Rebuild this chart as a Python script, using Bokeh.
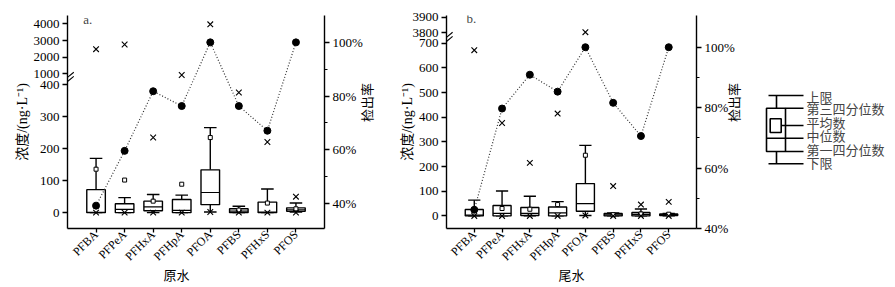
import numpy as np
from math import pi
from bokeh.plotting import figure
from bokeh.layouts import row
from bokeh.models import Range1d, LinearAxis, FixedTicker, PrintfTickFormatter, Label
from bokeh.embed import file_html
from bokeh.resources import INLINE

# ---------------- data ----------------
compounds = ["PFBA", "PFPeA", "PFHxA", "PFHpA", "PFOA", "PFBS", "PFHxS", "PFOS"]

# raw water (原水), ng/L
lower_a = [0, 0, 0, 0, 2, 0, 0, 2]
q1_a = [0, 0, 6, 0, 25, 0, 0, 4]
median_a = [1, 10, 18, 7, 63, 5, 2, 9]
q3_a = [72, 28, 36, 41, 134, 12, 33, 15]
upper_a = [170, 47, 57, 55, 266, 20, 74, 30]
mean_a = [136, 102, 36, 89, 235, 8, 30, 12]
max_a = [2480, 2760, 235, 920, 3980, 376, 221, 50]
min_a = [0, 0, 0, 0, 2, 0, 0, 0]
rate_a = [39.2, 59.6, 81.8, 76.3, 100, 76.3, 67.1, 100]

# treated water (尾水), ng/L
lower_b = [0, 0, 0, 0, 2, 0, 0, 0]
q1_b = [0, 0, 2, 0, 19, 0, 0, 2]
median_b = [3, 10, 10, 12, 50, 4, 6, 5]
q3_b = [26, 42, 34, 36, 131, 10, 14, 8]
upper_b = [64, 101, 80, 58, 286, 12, 28, 10]
mean_b = [22, 30, 27, 46, 246, 5, 8, 7]
max_b = [672, 377, 215, 415, 3804, 121, 46, 57]
min_b = [0, 0, 0, 0, 2, 0, 0, 0]
rate_b = [46.2, 79.7, 90.9, 85.3, 100, 81.6, 70.6, 100]

ticks_low_a = [0, 100, 200, 300, 400]
ticks_up_a = [1000, 2000, 3000, 4000]
ticks_low_b = [0, 100, 200, 300, 400, 500, 600, 700]
ticks_up_b = [3800, 3900]
rate_ticks = [40, 60, 80, 100]
rate_minor = [50, 70, 90]

legend_labels = ["上限", "第三四分位数", "平均数", "中位数", "第一四分位数", "下限"]

SERIF = "Liberation Serif"
CJK = "Noto Sans CJK SC"
MIX = "Liberation Serif, Noto Sans CJK SC"
H = 287


def make_tf(low_max, up_min, up_base, up_scale):
    def tf(v):
        v = np.asarray(v, dtype=float)
        return np.where(v <= low_max, v, up_base + (v - up_min) * up_scale)
    return tf


def panel(tf, lower, q1, med, q3, upper, mean, vmax, vmin, rate,
          yr, rr, t_low, t_up, break_at, width, mbl, mbr, mbb,
          tag, tag_xy, title, lstand, rstand):
    p = figure(width=width, height=H, x_range=Range1d(0, 9), y_range=Range1d(*yr),
               output_backend="svg", toolbar_location=None,
               min_border_left=mbl, min_border_right=mbr, min_border_top=15,
               min_border_bottom=mbb, outline_line_color=None)
    p.frame_align = False
    p.grid.visible = False
    p.background_fill_color = "white"
    xs = np.arange(1, len(compounds) + 1, dtype=float)
    bw = 0.65
    cw = 0.22

    # whiskers
    p.segment(x0=xs, x1=xs, y0=tf(q3), y1=tf(upper), line_color="black", line_width=1.4)
    p.segment(x0=xs, x1=xs, y0=tf(q1), y1=tf(lower), line_color="black", line_width=1.4)
    p.segment(x0=xs - cw, x1=xs + cw, y0=tf(upper), y1=tf(upper), line_color="black", line_width=1.4)
    p.segment(x0=xs - cw, x1=xs + cw, y0=tf(lower), y1=tf(lower), line_color="black", line_width=1.4)
    # boxes
    p.vbar(x=xs, width=bw, bottom=tf(q1), top=tf(q3), fill_color="white",
           line_color="black", line_width=1.4)
    p.segment(x0=xs - bw / 2, x1=xs + bw / 2, y0=tf(med), y1=tf(med), line_color="black", line_width=1.2)
    # mean
    p.scatter(xs, tf(mean), marker="square", size=4, fill_color="white", line_color="black", line_width=1)
    # max / min
    p.scatter(xs, tf(vmax), marker="x", size=8, line_color="black", line_width=1.1)
    p.scatter(xs, tf(vmin), marker="x", size=8, line_color="black", line_width=1.1)

    # detection rate
    p.extra_y_ranges = {"rate": Range1d(*rr)}
    p.line(xs, rate, y_range_name="rate", line_dash="1 2", line_color="#333333", line_width=1.2)
    p.scatter(xs, rate, y_range_name="rate", marker="circle", size=7,
              fill_color="black", line_color="black")

    # broken-axis mark
    d = (yr[1] - yr[0]) * 0.012
    for off in (-d * 0.8, d * 0.8):
        p.segment(x0=[0.0], x1=[0.22], y0=[break_at + off - d], y1=[break_at + off + d],
                  line_color="black", line_width=1.1)

    # left axis
    ya = p.yaxis[0]
    pos = [float(v) for v in tf(t_low)] + [float(v) for v in tf(t_up)]
    labs = [str(v) for v in t_low] + [str(v) for v in t_up]
    ya.ticker = FixedTicker(ticks=pos)
    ya.major_label_overrides = {k: l for k, l in zip(pos, labs)}
    ya.minor_tick_line_color = None
    ya.axis_label = "浓度/(ng·L⁻¹)"
    ya.axis_label_text_font = MIX
    ya.axis_label_text_font_size = "14px"
    ya.axis_label_standoff = lstand

    # x axis
    xa = p.xaxis[0]
    xa.ticker = FixedTicker(ticks=list(xs))
    xa.major_label_overrides = {float(x): c for x, c in zip(xs, compounds)}
    xa.major_label_orientation = pi / 4
    xa.minor_tick_line_color = None
    xa.axis_label = title
    xa.axis_label_text_font = CJK
    xa.axis_label_text_font_size = "13px"

    # right axis
    ra = LinearAxis(y_range_name="rate",
                    ticker=FixedTicker(ticks=rate_ticks, minor_ticks=rate_minor),
                    formatter=PrintfTickFormatter(format="%d%%"))
    ra.axis_label = "检出率"
    ra.axis_label_text_font = CJK
    ra.axis_label_text_font_size = "13px"
    ra.axis_label_standoff = rstand
    if "axis_label_orientation" in ra.properties():
        ra.axis_label_orientation = pi / 2
    p.add_layout(ra, "right")

    for ax in (ya, xa, ra):
        ax.axis_line_width = 1.4
        ax.axis_line_color = "black"
        ax.major_tick_line_width = 1.3
        ax.major_tick_in = 0
        ax.major_tick_out = 5
        ax.major_label_text_font = SERIF
        ax.major_label_text_font_size = "13px"
        ax.major_label_text_color = "black"
        ax.major_label_standoff = 3
        ax.axis_label_text_font_style = "normal"
        ax.axis_label_text_color = "black"
    xa.major_tick_out = 4
    xa.major_label_standoff = 0
    xa.axis_label_standoff = -6
    xa.major_label_text_font_size = "12px"
    ra.minor_tick_in = 0
    ra.minor_tick_out = 3
    ra.minor_tick_line_width = 1.2

    p.add_layout(Label(x=tag_xy[0], y=tag_xy[1], text=tag, text_font=SERIF,
                       text_font_size="13px", text_baseline="middle", text_align="left"))
    return p


tf_a = make_tf(420, 1000, 435, 0.0518)
tf_b = make_tf(720, 3800, 742.5, 0.633)

fa = panel(tf_a, lower_a, q1_a, median_a, q3_a, upper_a, mean_a, max_a, min_a, rate_a,
           yr=(-49.6, 617), rr=(30.7, 110), t_low=ticks_low_a, t_up=ticks_up_a, break_at=425,
           width=388, mbl=67, mbr=55, mbb=57,
           tag="a.", tag_xy=(0.55, 604), title="原水\u3000\u3000\u3000", lstand=1, rstand=1)

fb = panel(tf_b, lower_b, q1_b, median_b, q3_b, upper_b, mean_b, max_b, min_b, rate_b,
           yr=(-51, 812.6), rr=(40, 110.5), t_low=ticks_low_b, t_up=ticks_up_b, break_at=726,
           width=367, mbl=58, mbr=46, mbb=59,
           tag="b.", tag_xy=(0.72, 800), title="尾水", lstand=-5, rstand=-4)

# ---------------- legend schematic ----------------
fl = figure(width=140, height=H, x_range=Range1d(0, 140), y_range=Range1d(H, 0),
            output_backend="svg", toolbar_location=None, min_border=0,
            x_axis_location=None, y_axis_location=None, outline_line_color=None)
fl.frame_align = False
fl.grid.visible = False
lw = 1.6
y_up, y_q3, y_mean, y_med, y_q1, y_lo = 95, 107.7, 125, 137.7, 151, 163.3
bx0, bx1, wx, cx0, cx1 = 11, 30, 21, 13, 48
fl.segment(x0=[wx, wx], x1=[wx, wx], y0=[y_up, y_q1], y1=[y_q3, y_lo], line_color="black", line_width=lw)
fl.segment(x0=[cx0, cx0], x1=[cx1, cx1], y0=[y_up, y_lo], y1=[y_up, y_lo], line_color="black", line_width=lw)
fl.quad(left=[bx0], right=[bx1], top=[y_q3], bottom=[y_q1], fill_color="white", line_color="black", line_width=lw)
fl.quad(left=[14.7], right=[25.7], top=[118.3], bottom=[132], fill_color="white", line_color="black", line_width=lw)
fl.segment(x0=[bx1, 25.7, bx0, bx1], x1=[cx1, cx1, cx1, cx1], y0=[y_q3, y_mean, y_med, y_q1],
           y1=[y_q3, y_mean, y_med, y_q1], line_color="black", line_width=lw)
for lab, yy in zip(legend_labels, [96, 108, 122, 135, 148.5, 162]):
    fl.add_layout(Label(x=51, y=yy, text=lab, text_font=CJK, text_font_size="13px",
                        text_baseline="middle", text_align="left"))

layout = row(fa, fb, fl)
open("out.html", "w").write(file_html(layout, INLINE))
